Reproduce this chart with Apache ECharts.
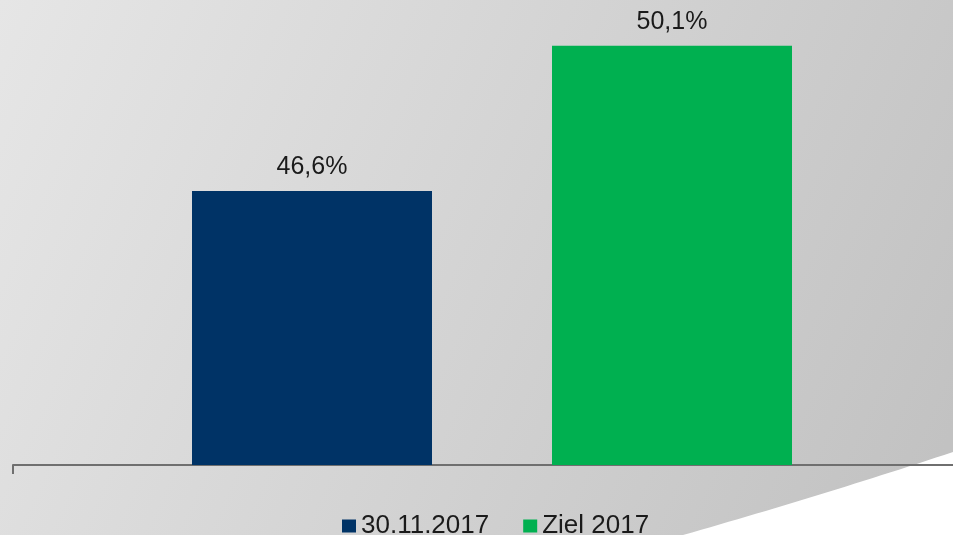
<!DOCTYPE html>
<html>
<head>
<meta charset="utf-8">
<script src="https://cdn.jsdelivr.net/npm/echarts@6/dist/echarts.min.js"></script>
<style>
  html, body { margin: 0; padding: 0; }
  #main { width: 953px; height: 535px; }
</style>
</head>
<body>
<div id="main"></div>
<script>
// Werte aus der Vorlage
var categories = ['Quote'];
var seriesNames = ['30.11.2017', 'Ziel 2017'];
var seriesValues = [46.6, 50.1];
var seriesColors = ['#003366', '#00b050'];

var myChart = echarts.init(document.getElementById('main'));

// weisse Welle unten rechts (Folienhintergrund)
function wavePoints() {
    var p0 = [683, 535], p1 = [820, 496], p2 = [953, 452];
    var pts = [];
    for (var i = 0; i <= 30; i++) {
        var t = i / 30, u = 1 - t;
        pts.push([
            u * u * p0[0] + 2 * u * t * p1[0] + t * t * p2[0],
            u * u * p0[1] + 2 * u * t * p1[1] + t * t * p2[1]
        ]);
    }
    pts.push([953, 535]);
    return pts;
}

var series = seriesNames.map(function (name, i) {
    return {
        name: name,
        type: 'bar',
        data: [seriesValues[i]],
        barWidth: 240,
        barGap: '50%',
        itemStyle: { color: seriesColors[i] },
        label: {
            show: true,
            position: 'top',
            distance: 11,
            color: '#1a1a1a',
            fontFamily: 'Liberation Sans',
            fontSize: 25,
            formatter: function (p) {
                return p.value.toFixed(1).replace('.', ',') + '%';
            }
        }
    };
});

var option = {
    animation: false,
    graphic: [
        {
            type: 'rect',
            z: -10,
            shape: { x: 0, y: 0, width: 953, height: 535 },
            style: {
                fill: new echarts.graphic.LinearGradient(0, 0, 1, 0.8, [
                    { offset: 0, color: '#e6e6e6' },
                    { offset: 1, color: '#c2c2c2' }
                ])
            }
        },
        {
            type: 'polygon',
            z: -9,
            shape: { points: wavePoints() },
            style: { fill: '#ffffff' }
        }
    ],
    legend: {
        data: seriesNames,
        left: 337,
        top: 508,
        icon: 'rect',
        itemWidth: 14,
        itemHeight: 13,
        itemGap: 34,
        textStyle: {
            color: '#1a1a1a',
            fontFamily: 'Liberation Sans',
            fontSize: 26
        }
    },
    // Achse laeuft rechts ueber den Bildrand hinaus
    grid: { left: 13, right: -18, top: 8.5, bottom: 70, outerBoundsMode: 'none' },
    xAxis: {
        type: 'category',
        data: categories,
        axisLine: { lineStyle: { color: '#6f6f6f', width: 2 } },
        axisTick: { show: true, interval: 0, length: 9, lineStyle: { color: '#6f6f6f', width: 2 } },
        axisLabel: { show: false }
    },
    yAxis: { type: 'value', min: 40, max: 51, show: false, splitLine: { show: false } },
    series: series
};

myChart.setOption(option);
</script>
</body>
</html>
